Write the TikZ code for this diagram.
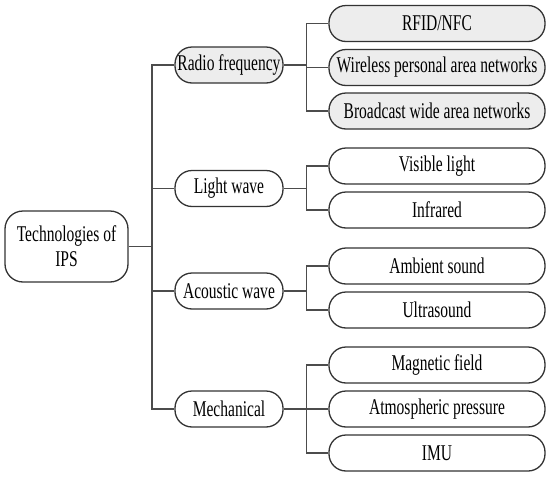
\documentclass[tikz,border=0pt]{standalone}
\usepackage{fontspec}
\setmainfont{Liberation Serif}[FakeStretch=0.69]
\begin{document}
\begin{tikzpicture}[x=1pt,y=-1pt,
  box/.style={draw=black!80, line width=1.3pt, rounded corners=17pt, minimum height=36pt, inner sep=0pt, font=\fontsize{22.5}{25}\selectfont},
  lone/.style={box, minimum width=108pt},
  ltwo/.style={box, minimum width=216pt},
  grey/.style={fill=black!7},
  link/.style={draw=black!70, line width=1.1pt}]
\useasboundingbox (0,0) rectangle (550,477);
\node[box, minimum width=123pt, minimum height=71pt, rounded corners=18pt, align=center] (root) at (66.5,246.5) {Technologies of\\IPS};
\node[lone, grey] (rf) at (229,65) {Radio frequency};
\node[lone] (lw) at (229,188.5) {Light wave};
\node[lone] (aw) at (229,291) {Acoustic wave};
\node[lone] (me) at (229,409) {Mechanical};
\node[ltwo, grey] (rfid) at (437,23.5) {RFID/NFC};
\node[ltwo, grey] (wpan) at (437,67.5) {Wireless personal area networks};
\node[ltwo, grey] (bwan) at (437,111) {Broadcast wide area networks};
\node[ltwo] (vis) at (437,166) {Visible light};
\node[ltwo] (ir) at (437,210) {Infrared};
\node[ltwo] (amb) at (437,266) {Ambient sound};
\node[ltwo] (us) at (437,310) {Ultrasound};
\node[ltwo] (mag) at (437,365) {Magnetic field};
\node[ltwo] (atm) at (437,409) {Atmospheric pressure};
\node[ltwo] (imu) at (437,453) {IMU};
\coordinate (t) at (152,246.5);
\draw[link] (root.east) -- (t);
\foreach \n in {rf,lw,aw,me} \draw[link] (\n.west) -| (t);
\draw[link] (rf.east) -- ++(23,0) coordinate (jrf);
\foreach \c in {rfid,wpan,bwan} \draw[link] (\c.west) -| (jrf);
\draw[link] (lw.east) -- ++(23,0) coordinate (jlw);
\foreach \c in {vis,ir} \draw[link] (\c.west) -| (jlw);
\draw[link] (aw.east) -- ++(23,0) coordinate (jaw);
\foreach \c in {amb,us} \draw[link] (\c.west) -| (jaw);
\draw[link] (me.east) -- ++(23,0) coordinate (jme);
\foreach \c in {mag,atm,imu} \draw[link] (\c.west) -| (jme);
\end{tikzpicture}
\end{document}
